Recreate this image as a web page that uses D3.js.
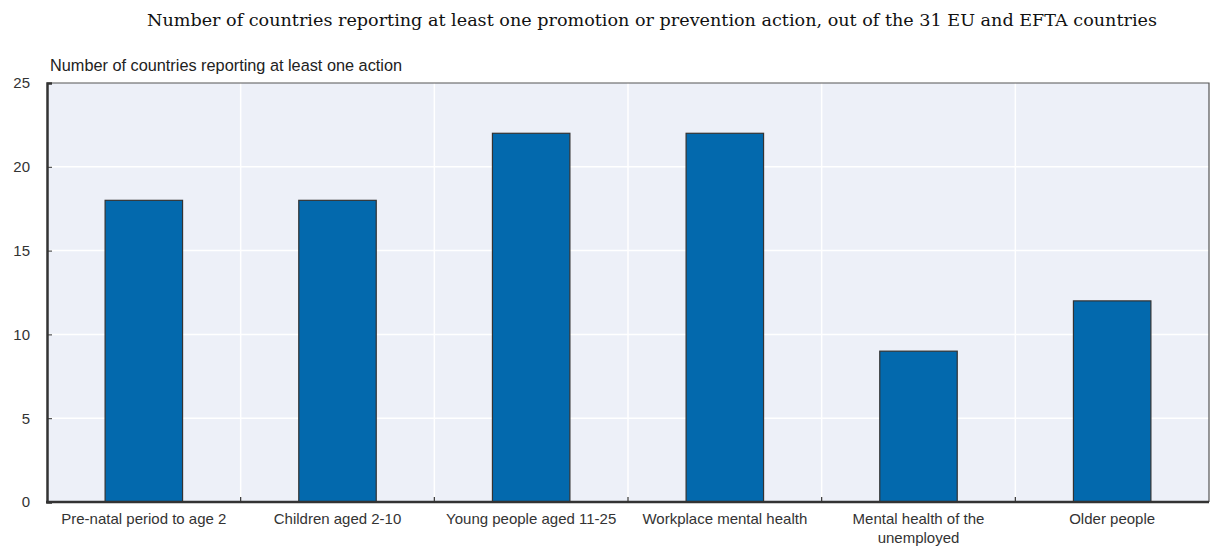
<!DOCTYPE html>
<html><head><meta charset="utf-8">
<script src="https://cdn.jsdelivr.net/npm/d3@7"></script>
<style>body{margin:0;background:#fff}svg{display:block}</style>
</head><body>
<script>
const categories = ["Pre-natal period to age 2","Children aged 2-10","Young people aged 11-25","Workplace mental health","Mental health of the unemployed","Older people"];
const values = [18,18,22,22,9,12];
const yTicks = [0,5,10,15,20,25];
const title = "Number of countries reporting at least one promotion or prevention action, out of the 31 EU and EFTA countries";
const yLabel = "Number of countries reporting at least one action";

const W=1213,H=547;
const m={l:47,r:4,t:83,b:45};
const svg=d3.select("body").append("svg").attr("width",W).attr("height",H);
const x=d3.scaleBand().domain(categories).range([m.l,W-m.r]).paddingInner(0).paddingOuter(0);
const y=d3.scaleLinear().domain([0,25]).range([H-m.b,m.t]);
const sans="'Liberation Sans Narrow','Arial Narrow','Liberation Sans',Arial,sans-serif";

svg.append("text").attr("x",147).attr("y",26)
  .attr("font-family","'DejaVu Serif','Liberation Serif',serif").attr("font-size",17.4)
  .attr("textLength",1010).attr("lengthAdjust","spacingAndGlyphs").attr("fill","#111").text(title);

svg.append("rect").attr("x",m.l).attr("y",m.t).attr("width",W-m.r-m.l).attr("height",H-m.b-m.t).attr("fill","#edf0f8");
// grid
svg.append("g").selectAll("line").data(yTicks.slice(1,-1)).join("line")
  .attr("x1",m.l).attr("x2",W-m.r).attr("y1",d=>y(d)).attr("y2",d=>y(d)).attr("stroke","#fff").attr("stroke-width",1.5);
const bounds=categories.slice(1).map(c=>x(c));
svg.append("g").selectAll("line").data(bounds).join("line")
  .attr("x1",d=>d).attr("x2",d=>d).attr("y1",m.t).attr("y2",H-m.b).attr("stroke","#fff").attr("stroke-width",1.5);
// frame top/right
svg.append("path").attr("d",`M${m.l},${m.t}H${W-m.r}V${H-m.b}`).attr("fill","none").attr("stroke","#555").attr("stroke-width",1.2);
// bars
const bw=x.bandwidth()*0.4;
svg.append("g").selectAll("rect").data(values).join("rect")
  .attr("x",(d,i)=>x(categories[i])+x.bandwidth()/2-bw/2).attr("width",bw)
  .attr("y",d=>y(d)).attr("height",d=>y(0)-y(d))
  .attr("fill","#0369ad").attr("stroke","#333").attr("stroke-width",1.2);
// y axis
const ya=svg.append("g").attr("transform",`translate(${m.l},0)`).call(d3.axisLeft(y).tickValues(yTicks).tickSize(-5).tickPadding(17));
ya.select(".domain").attr("stroke","#333").attr("stroke-width",2.5);
ya.selectAll(".tick line").attr("stroke","#333");
ya.selectAll("text").attr("font-family",sans).attr("font-size",15).attr("fill","#333");
ya.selectAll(".tick").filter(d=>d===25).select("line").remove();
// x axis
const xa=svg.append("g").attr("transform",`translate(0,${H-m.b})`);
xa.append("line").attr("x1",m.l-1).attr("x2",W-m.r).attr("stroke","#333").attr("stroke-width",2.5);
xa.selectAll(".tk").data(bounds).join("line").attr("x1",d=>d).attr("x2",d=>d).attr("y1",0).attr("y2",-5).attr("stroke","#333").attr("stroke-width",1.2);
const xl=xa.selectAll(".lbl").data(categories).join("text").attr("text-anchor","middle")
  .attr("x",d=>x(d)+x.bandwidth()/2).attr("y",22)
  .attr("font-family",sans).attr("font-size",15).attr("fill","#333");
xl.each(function(d){
  const t=d3.select(this);
  const lines=d==="Mental health of the unemployed"?["Mental health of the","unemployed"]:[d];
  lines.forEach((l,i)=>t.append("tspan").attr("x",x(d)+x.bandwidth()/2).attr("dy",i?19:0).text(l));
});
svg.append("text").attr("x",50).attr("y",71).attr("font-family",sans).attr("font-size",16.3).attr("fill","#222").text(yLabel);
</script>
</body></html>
